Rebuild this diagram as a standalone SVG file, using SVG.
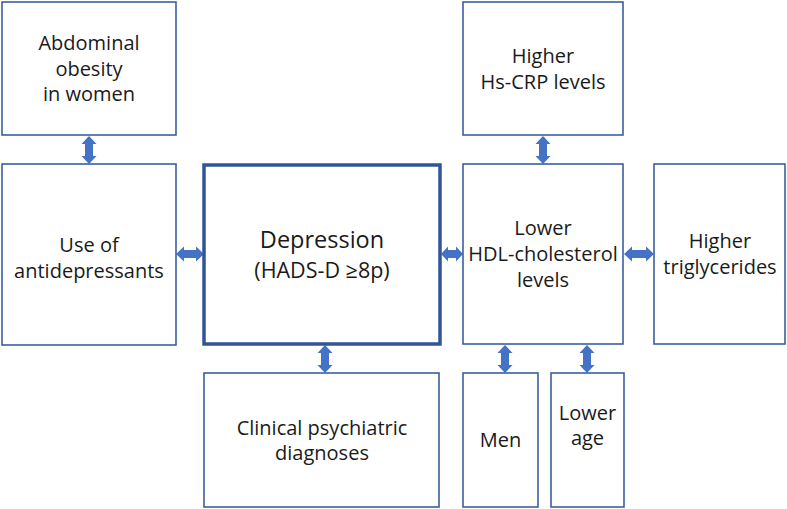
<svg xmlns="http://www.w3.org/2000/svg" width="787" height="509" viewBox="0 0 787 509">
<style>
.box{fill:#fff;stroke:#3A5FA0;stroke-width:1.6}
.main{fill:#fff;stroke:#2F5597;stroke-width:3.5}
.arr{fill:#4472C4}
text{font-family:"Open Sans","Liberation Sans",sans-serif;font-size:20px;fill:#1a1a1a;text-anchor:middle}
.big{font-size:23.5px}
.mid{font-size:21.5px}
</style>
<rect width="787" height="509" fill="#fff"/>
<g id="connectors">
<path class="arr" d="M176,254 l8,-7.5 v3.5 h12 v-3.5 l8,7.5 l-8,7.5 v-3.5 h-12 v3.5 z"/>
<path class="arr" d="M441,254 l7,-7.5 v3.5 h8 v-3.5 l7,7.5 l-7,7.5 v-3.5 h-8 v3.5 z"/>
<path class="arr" d="M624,254 l8,-7.5 v3.5 h14 v-3.5 l8,7.5 l-8,7.5 v-3.5 h-14 v3.5 z"/>
<path class="arr" d="M89,136 l7.5,8 h-3.5 v12 h3.5 l-7.5,8 l-7.5,-8 h3.5 v-12 h-3.5 z"/>
<path class="arr" d="M543,136 l7.5,8 h-3.5 v12 h3.5 l-7.5,8 l-7.5,-8 h3.5 v-12 h-3.5 z"/>
<path class="arr" d="M325,345 l7.5,8 h-3.5 v12 h3.5 l-7.5,8 l-7.5,-8 h3.5 v-12 h-3.5 z"/>
<path class="arr" d="M505,345 l7.5,8 h-3.5 v12 h3.5 l-7.5,8 l-7.5,-8 h3.5 v-12 h-3.5 z"/>
<path class="arr" d="M587,345 l7.5,8 h-3.5 v12 h3.5 l-7.5,8 l-7.5,-8 h3.5 v-12 h-3.5 z"/>
</g>
<g id="abdominal">
<rect class="box" x="2" y="2" width="174" height="133"/>
<text x="89" y="50">Abdominal</text>
<text x="89" y="75.5">obesity</text>
<text x="89" y="101">in women</text>
</g>
<g id="antidepressants">
<rect class="box" x="2" y="164" width="174" height="181"/>
<text x="89" y="252">Use of</text>
<text x="89" y="278">antidepressants</text>
</g>
<g id="depression">
<rect class="main" x="204" y="165" width="236" height="179"/>
<text class="big" x="322" y="248">Depression</text>
<text class="mid" x="322" y="278">(HADS-D ≥8p)</text>
</g>
<g id="clinical">
<rect class="box" x="204" y="373" width="235" height="134"/>
<text x="322" y="435">Clinical psychiatric</text>
<text x="322" y="460">diagnoses</text>
</g>
<g id="hscrp">
<rect class="box" x="463" y="2" width="160" height="133"/>
<text x="543" y="63">Higher</text>
<text x="543" y="89">Hs-CRP levels</text>
</g>
<g id="hdl">
<rect class="box" x="463" y="164" width="160" height="180"/>
<text x="543" y="235">Lower</text>
<text x="543" y="261">HDL-cholesterol</text>
<text x="543" y="287">levels</text>
</g>
<g id="triglycerides">
<rect class="box" x="654" y="164" width="131" height="180"/>
<text x="720" y="248">Higher</text>
<text x="720" y="274">triglycerides</text>
</g>
<g id="men">
<rect class="box" x="463" y="373" width="75" height="134"/>
<text x="500.5" y="447">Men</text>
</g>
<g id="lowerage">
<rect class="box" x="551" y="373" width="73" height="134"/>
<text x="587.5" y="420">Lower</text>
<text x="587.5" y="445">age</text>
</g>
</svg>
